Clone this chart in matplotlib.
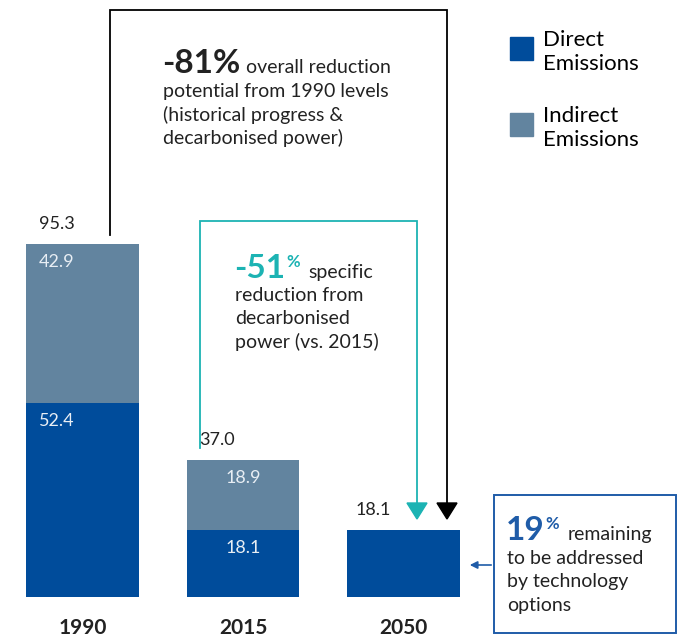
import matplotlib.pyplot as plt
from matplotlib.patches import Polygon, Rectangle

plt.rcParams['font.family'] = ['Lato', 'DejaVu Sans']

years = ["1990", "2015", "2050"]
direct = [52.4, 18.1, 18.1]
indirect = [42.9, 18.9, 0.0]
totals = [95.3, 37.0, 18.1]

C_DIRECT = "#004c9b"
C_INDIRECT = "#62849f"
C_TEAL = "#1cb3b3"
C_TEXT = "#222222"
C_BOX = "#1f5ca8"

W, H = 684, 642
fig = plt.figure(figsize=(W / 100, H / 100), dpi=100)
ax = fig.add_axes([0, 0, 1, 1])
# map data so that value 0 sits at pixel row 597, ~3.7 px per unit
ax.set_ylim(-45 / 3.704, 597 / 3.704)
ax.set_xlim(-82.5 / 160.5, (W - 82.5) / 160.5)
ax.axis("off")


def fx(x):
    return x / W


def fy(y):
    return 1 - y / H


ff = fig.transFigure
renderer = fig.canvas.get_renderer()

x = range(len(years))
ax.bar(x, direct, width=0.704, color=C_DIRECT, label="Direct Emissions")
ax.bar(x, indirect, width=0.704, bottom=direct, color=C_INDIRECT, label="Indirect Emissions")

# value labels
total_off = [-0.16, -0.16, -0.19]
inner_off = [-0.16, 0.0, 0.0]
for i in x:
    ax.text(i + total_off[i], totals[i] + 5.5, f"{totals[i]:.1f}", fontsize=13, color=C_TEXT,
            ha="center", va="center")
    if indirect[i] > 0:
        ax.text(i + inner_off[i], direct[i] + indirect[i] - 4.8, f"{indirect[i]:.1f}",
                fontsize=13, color="#e8eef4", ha="center", va="center")
        ax.text(i + inner_off[i], direct[i] - 5.0, f"{direct[i]:.1f}", fontsize=13,
                color="#e8eef4", ha="center", va="center")
    ax.text(i, -8.3, years[i], fontsize=15, fontweight="bold", color=C_TEXT,
            ha="center", va="center")

# black bracket arrow (overall reduction)
ax.plot([fx(110), fx(110), fx(447), fx(447)], [fy(235), fy(10), fy(10), fy(505)],
        color="black", lw=1.3, transform=ff, solid_joinstyle="miter")
fig.add_artist(Polygon([[fx(437), fy(503)], [fx(457), fy(503)], [fx(447), fy(519)]],
                       closed=True, color="black", transform=ff))

# teal bracket arrow (decarbonised power)
ax.plot([fx(200), fx(200), fx(417), fx(417)], [fy(448), fy(221), fy(221), fy(505)],
        color=C_TEAL, lw=1.3, transform=ff, solid_joinstyle="miter")
fig.add_artist(Polygon([[fx(407), fy(503)], [fx(427), fy(503)], [fx(417), fy(519)]],
                       closed=True, color=C_TEAL, transform=ff))


def chain(parts, x0, y0, color_big):
    """Place bold figure, superscript % and trailing text one after another."""
    xc = fx(x0)
    for txt, size, weight, col, dy, gap in parts:
        if col is None:
            col = color_big
        t = fig.text(xc, fy(y0 + dy), txt, fontsize=size, fontweight=weight, color=col,
                     fontstyle="normal", va="baseline")
        bb = t.get_window_extent(renderer)
        xc = (bb.x1 + gap) / W


BODY = 14

# -81% text block
chain([("-81%", 24, "bold", None, 0, 6),
       ("overall reduction", BODY, "normal", C_TEXT, 0, 0)], 162, 73, C_TEXT)
for j, line in enumerate(["potential from 1990 levels", "(historical progress &",
                          "decarbonised power)"]):
    fig.text(fx(163), fy(97 + 23.5 * j), line, fontsize=BODY, color=C_TEXT, va="baseline")

# -51% text block
chain([("-51", 24, "bold", None, 0, 1),
       ("%", 12, "bold", None, -11, 9),
       ("specific", BODY, "normal", C_TEXT, 0, 0)], 234, 278, C_TEAL)
for j, line in enumerate(["reduction from", "decarbonised", "power (vs. 2015)"]):
    fig.text(fx(235), fy(301 + 23.5 * j), line, fontsize=BODY, color=C_TEXT, va="baseline")

# 19% box
fig.add_artist(Rectangle((fx(494), fy(633)), fx(676) - fx(494), fy(495) - fy(633),
                         fill=False, edgecolor=C_BOX, lw=1.4, transform=ff))
ax.annotate("", xy=(fx(467), fy(565)), xytext=(fx(494), fy(565)),
            xycoords=ff, textcoords=ff,
            arrowprops=dict(arrowstyle="-|>", color=C_BOX, lw=1.2, mutation_scale=11))
chain([("19", 24, "bold", None, 0, 1),
       ("%", 12, "bold", None, -11, 8),
       ("remaining", BODY, "normal", C_TEXT, 0, 0)], 506, 540, C_BOX)
for j, line in enumerate(["to be addressed", "by technology", "options"]):
    fig.text(fx(507), fy(564 + 23.5 * j), line, fontsize=BODY, color=C_TEXT, va="baseline")

# legend
for k, (lab, col) in enumerate([("Direct\nEmissions", C_DIRECT), ("Indirect\nEmissions", C_INDIRECT)]):
    y0 = 37 + 76 * k
    fig.add_artist(Rectangle((fx(510), fy(y0 + 23)), fx(23), fy(0) - fy(23),
                             color=col, transform=ff))
    fig.text(fx(543), fy(y0 + 15), lab, fontsize=16, color="black", va="center",
             linespacing=1.3)

fig.savefig("out.png", dpi=100)
